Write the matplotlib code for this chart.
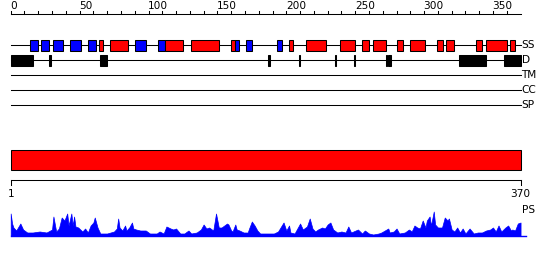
import numpy as np
import matplotlib
matplotlib.use("Agg")
import matplotlib.pyplot as plt
from matplotlib.patches import Rectangle

seq_len = 370

# secondary structure (residue start, end)
strands = [(14, 20), (22, 28), (31, 38), (43, 51), (56, 62), (90, 98), (107, 112),
           (163, 166), (171, 175), (193, 197)]
helices = [(64, 67), (72, 85), (112, 125), (131, 151), (160, 163), (202, 205),
           (214, 229), (239, 250), (255, 260), (263, 272), (280, 285), (290, 301),
           (309, 314), (316, 322), (338, 342), (345, 360), (362, 366)]
# disorder regions
disorder = [(0, 16), (28, 29), (65, 70), (187, 188), (209, 210), (235, 236),
            (249, 250), (272, 273), (274, 276), (325, 345), (358, 370)]
tracks = ["SS", "D", "TM", "CC", "SP"]

# PS profile (residue, score)
ps_res = [0, 1, 2, 4, 7, 9, 12, 16, 21, 26, 30, 31, 33, 35, 37, 39, 41, 42, 44, 45, 46,
          47, 49, 52, 54, 56, 58, 60, 61, 63, 65, 70, 75, 77, 78, 79, 81, 83, 84, 86, 88,
          89, 91, 94, 98, 101, 106, 108, 111, 113, 116, 118, 120, 123, 126, 129, 131, 135,
          138, 140, 142, 144, 146, 147, 149, 151, 153, 155, 157, 158, 160, 161, 163, 164,
          166, 169, 172, 173, 175, 177, 179, 181, 186, 191, 194, 198, 200, 202, 203, 206,
          210, 212, 215, 217, 219, 221, 223, 226, 228, 230, 232, 234, 237, 240, 243, 245,
          247, 252, 255, 257, 260, 263, 267, 269, 274, 275, 278, 280, 282, 286, 289, 291,
          293, 295, 297, 299, 301, 302, 304, 305, 307, 308, 310, 313, 315, 317, 318, 320,
          322, 324, 326, 328, 330, 333, 336, 339, 342, 345, 348, 350, 352, 354, 356, 359,
          361, 363, 364, 366, 368, 370]
ps_val = [22, 12, 8, 5, 12, 6, 3, 3, 4, 3, 6, 19, 4, 7, 18, 15, 22, 10, 22, 10, 19,
          9, 8, 4, 7, 3, 10, 13, 18, 8, 2, 2, 4, 7, 17, 8, 5, 10, 5, 8, 13,
          7, 6, 5, 5, 2, 2, 4, 2, 9, 7, 6, 7, 2, 2, 5, 2, 3,
          6, 11, 7, 8, 6, 5, 22, 8, 8, 10, 12, 11, 5, 4, 11, 6,
          5, 3, 3, 7, 14, 10, 5, 2, 2, 2, 4, 13, 5, 10, 3, 2,
          12, 6, 9, 17, 7, 4, 6, 8, 7, 11, 13, 6, 3, 4, 3, 9,
          3, 6, 2, 5, 2, 1, 2, 3, 7, 3, 4, 7, 2, 3, 6, 4,
          10, 8, 7, 15, 8, 15, 19, 10, 24, 11, 8, 8, 18, 15, 17, 6,
          4, 8, 3, 7, 2, 7, 2, 3, 3, 5, 6, 8, 4, 10, 4, 8,
          10, 5, 6, 5, 12, 13]

top_ticks = list(range(0, 360, 50))

px = 1.378       # pixels per residue
x0 = 10.7        # pixel of residue 0
lw = 0.75

fig = plt.figure(figsize=(5.5, 2.6), dpi=100)
ax = fig.add_axes([0, 0, 1, 1])
ax.set_xlim(-x0 / px, (550 - x0) / px)
ax.set_ylim(260, 0)
ax.axis("off")

font = dict(family="DejaVu Sans", fontsize=7.6, color="black")

# top ruler
ax.plot([0, seq_len], [14, 14], color="black", lw=lw)
for t in range(0, 370, 10):
    ax.plot([t, t], [11.3, 14], color="black", lw=lw)
for t in top_ticks:
    ax.text(t - 0.3, 11, str(t), ha="left", va="bottom", **font)

# track lines
track_y = [45, 60, 75, 90, 105]
for name, y in zip(tracks, track_y):
    ax.plot([0, seq_len], [y, y], color="black", lw=lw, zorder=1)
    ax.text(seq_len + 0.7, y, name, ha="left", va="center", **font)

for s, e in strands:
    ax.add_patch(Rectangle((s, 40), e - s, 10.5, facecolor="#0000ff",
                           edgecolor="black", lw=lw, zorder=2))
for s, e in helices:
    ax.add_patch(Rectangle((s, 40), e - s, 10.5, facecolor="#ff0000",
                           edgecolor="black", lw=lw, zorder=2))
for s, e in disorder:
    ax.add_patch(Rectangle((s, 55), e - s, 10.5, facecolor="black",
                           edgecolor="black", lw=lw, zorder=2))

# domain bar
ax.add_patch(Rectangle((0, 150.3), seq_len, 20, facecolor="#ff0000",
                       edgecolor="black", lw=lw))

# bottom ruler
ax.plot([0, seq_len], [180.3, 180.3], color="black", lw=lw)
ax.plot([0, 0], [180.3, 185], color="black", lw=lw)
ax.plot([seq_len, seq_len], [180.3, 185], color="black", lw=lw)
ax.text(0, 189, "1", ha="center", va="top", **font)
ax.text(seq_len, 189, str(seq_len), ha="center", va="top", **font)
ax.text(seq_len + 0.7, 205, "PS", ha="left", va="top", **font)

# PS profile
base = 235.5
ps_y = [base - v for v in ps_val]
ax.fill_between(ps_res, ps_y, base, color="#0000ff", lw=0.5)
ax.plot([0, seq_len + 4.3], [base, base], color="#0000ff", lw=1)

fig.savefig("out.png", dpi=100)
